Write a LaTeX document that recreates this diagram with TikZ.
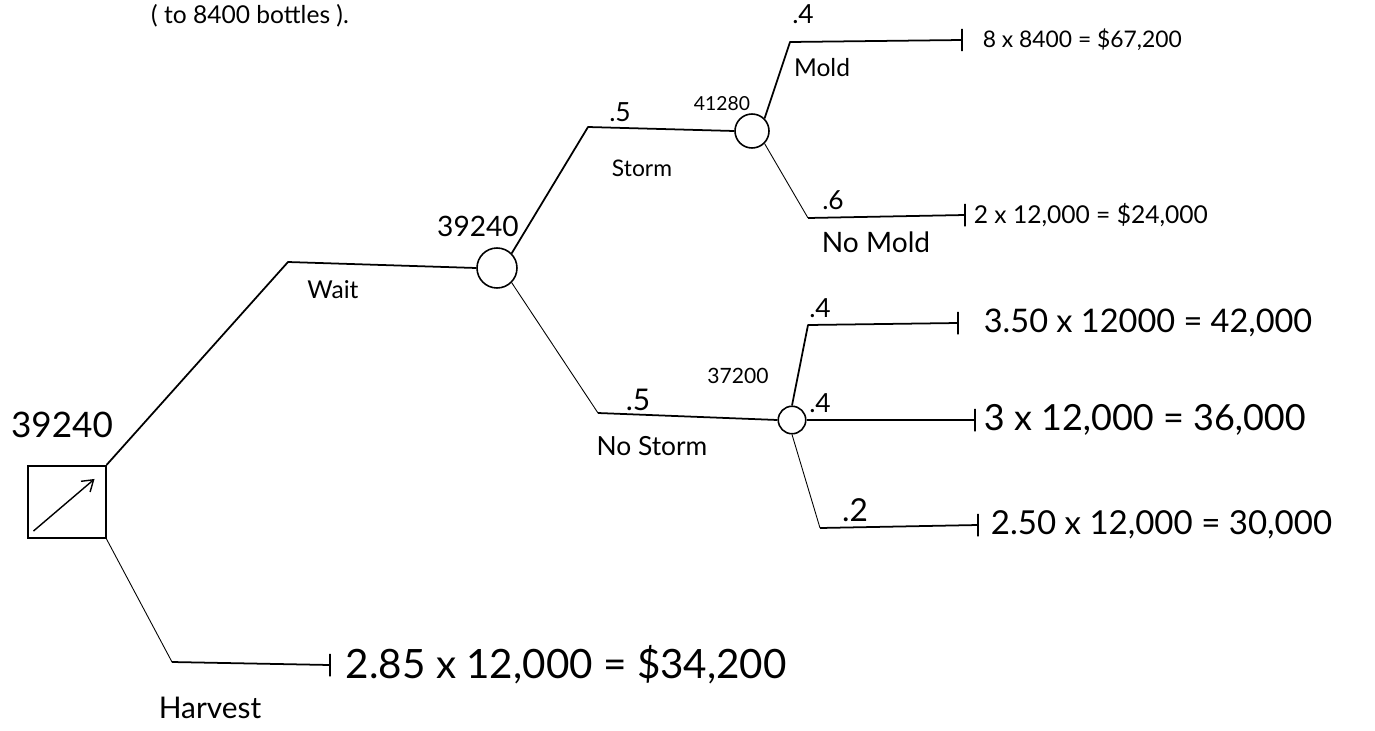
\documentclass[tikz,border=0pt]{standalone}
\usepackage{fontspec}
\setmainfont{Lato}
\usetikzlibrary{positioning, arrows.meta, calc}

\begin{document}
\begin{tikzpicture}[
	x=0.02cm, y=-0.02cm,
	% --- ESTILOS ---
	decision/.style={
		rectangle, draw, line width=0.9pt, minimum width=1.55cm, minimum height=1.45cm, inner sep=0pt
	},
	chance/.style={
		circle, draw, line width=0.9pt, inner sep=0pt
	},
	branch/.style={
		draw, line width=1pt, line join=round
	},
	thinbranch/.style={
		draw, line width=0.5pt, line join=round
	},
	endtick/.style={
		draw, line width=0.6pt, inner sep=0pt, minimum width=0pt, minimum height=0.45cm
	},
	payoff/.style={
		anchor=west, inner sep=0pt
	},
	lbl/.style={
		inner sep=1pt
	}
	]
	
	\clip (0,0) rectangle (1375,730);
	\fill[white] (0,0) rectangle (1375,730);
	
	% ==========================================
	% 0. Encabezado
	% ==========================================
	\node[lbl, anchor=north, font=\fontsize{14}{17}\selectfont] (header) at (250,2) {( to 8400 bottles ).};
	
	% ==========================================
	% 1. Nodo de decision
	% ==========================================
	\node[decision] (dec) at (67,502) {};
	\node[lbl, font=\fontsize{20}{24}\selectfont] (decval) at (62,425) {39240};
	\coordinate (arrow_from) at ($(dec.south west)+(6,-8)$);
	\coordinate (arrow_to) at ($(dec.north east)+(-12,14)$);
	\draw[line width=0.8pt, -{Straight Barb[length=6pt, width=8pt]}] (arrow_from) -- (arrow_to);
	
	% ==========================================
	% 2. Rama Wait
	% ==========================================
	\node[chance, minimum size=0.8cm] (wait) at (497,268) {};
	\node[lbl, font=\fontsize{16}{19}\selectfont] (waitval) at (478,226) {39240};
	\coordinate (wait_bend) at (288,262);
	\draw[branch] (dec.north east) -- (wait_bend) -- (wait.west);
	\node[lbl, font=\fontsize{14}{17}\selectfont] (waitlbl) at (333,290) {Wait};
	
	% ==========================================
	% 3. Rama Harvest
	% ==========================================
	\coordinate (harv_bend) at (172,662);
	\node[endtick] (harv_end) at (330,665) {};
	\draw[thinbranch] (dec.south east) -- (harv_bend);
	\draw[branch] (harv_bend) -- (harv_end);
	\node[lbl, font=\fontsize{17}{20}\selectfont] (harvlbl) at (210,708) {Harvest};
	\node[payoff, font=\fontsize{23}{27}\selectfont, right=15 of harv_end] (harvpay) {2.85 x 12,000 = \$34,200};
	
	% ==========================================
	% 4. Storm
	% ==========================================
	\node[chance, minimum size=0.68cm] (storm) at (752,131) {};
	\coordinate (storm_bend) at (588,127);
	\draw[branch] (wait.north east) -- (storm_bend) -- (storm.west);
	\node[lbl, font=\fontsize{15}{18}\selectfont] (stormp) at (620,112) {.5};
	\node[lbl, font=\fontsize{11}{13}\selectfont] (stormval) at (722,104) {41280};
	\node[lbl, font=\fontsize{13}{16}\selectfont] (stormlbl) at (642,168) {Storm};
	
	% --- Mold ---
	\coordinate (mold_bend) at (790,42);
	\node[endtick] (mold_end) at (962,40) {};
	\draw[branch] (storm.north east) -- (mold_bend) -- (mold_end);
	\node[lbl, font=\fontsize{15}{18}\selectfont] (moldp) at (803,14) {.4};
	\node[lbl, font=\fontsize{14}{17}\selectfont] (moldlbl) at (822,68) {Mold};
	\node[payoff, font=\fontsize{13}{16}\selectfont, right=20 of mold_end] (moldpay) {8 x 8400 = \$67,200};
	
	% --- No Mold ---
	\coordinate (nomold_bend) at (808,218);
	\node[endtick] (nomold_end) at (965,215) {};
	\draw[thinbranch] (storm.south east) -- (nomold_bend);
	\draw[branch] (nomold_bend) -- (nomold_end);
	\node[lbl, font=\fontsize{15}{18}\selectfont] (nomoldp) at (833,200) {.6};
	\node[lbl, font=\fontsize{16}{19}\selectfont] (nomoldlbl) at (876,242) {No Mold};
	\node[payoff, font=\fontsize{14}{17}\selectfont, right=8 of nomold_end] (nomoldpay) {2 x 12,000 = \$24,000};
	
	% ==========================================
	% 5. No Storm
	% ==========================================
	\node[chance, minimum size=0.55cm] (nostorm) at (792,420) {};
	\coordinate (nostorm_bend) at (598,413);
	\draw[thinbranch] (wait.south east) -- (nostorm_bend);
	\draw[branch] (nostorm_bend) -- (nostorm.west);
	\node[lbl, font=\fontsize{17}{20}\selectfont] (nostormp) at (638,400) {.5};
	\node[lbl, font=\fontsize{12}{14}\selectfont] (nostormval) at (738,376) {37200};
	\node[lbl, font=\fontsize{15}{18}\selectfont] (nostormlbl) at (652,446) {No Storm};
	
	% --- rama superior ---
	\coordinate (hi_bend) at (808,325);
	\node[endtick] (hi_end) at (958,323) {};
	\draw[branch] (nostorm.north) -- (hi_bend) -- (hi_end);
	\node[lbl, font=\fontsize{15}{18}\selectfont] (hip) at (820,308) {.4};
	\node[payoff, font=\fontsize{18.5}{22}\selectfont, right=25 of hi_end] (hipay) {3.50 x 12000 = 42,000};
	
	% --- rama media ---
	\node[endtick] (mid_end) at (975,420) {};
	\draw[branch] (nostorm.east) -- (mid_end);
	\node[lbl, font=\fontsize{15}{18}\selectfont] (midp) at (820,403) {.4};
	\node[payoff, font=\fontsize{20.5}{24}\selectfont, right=8 of mid_end] (midpay) {3 x 12,000 = 36,000};
	
	% --- rama inferior ---
	\coordinate (lo_bend) at (820,528);
	\node[endtick] (lo_end) at (978,525) {};
	\draw[thinbranch] (nostorm.south) -- (lo_bend);
	\draw[branch] (lo_bend) -- (lo_end);
	\node[lbl, font=\fontsize{18}{21}\selectfont] (lop) at (855,510) {.2};
	\node[payoff, font=\fontsize{18.8}{22}\selectfont, right=12 of lo_end] (lopay) {2.50 x 12,000 = 30,000};
	
\end{tikzpicture}
\end{document}
